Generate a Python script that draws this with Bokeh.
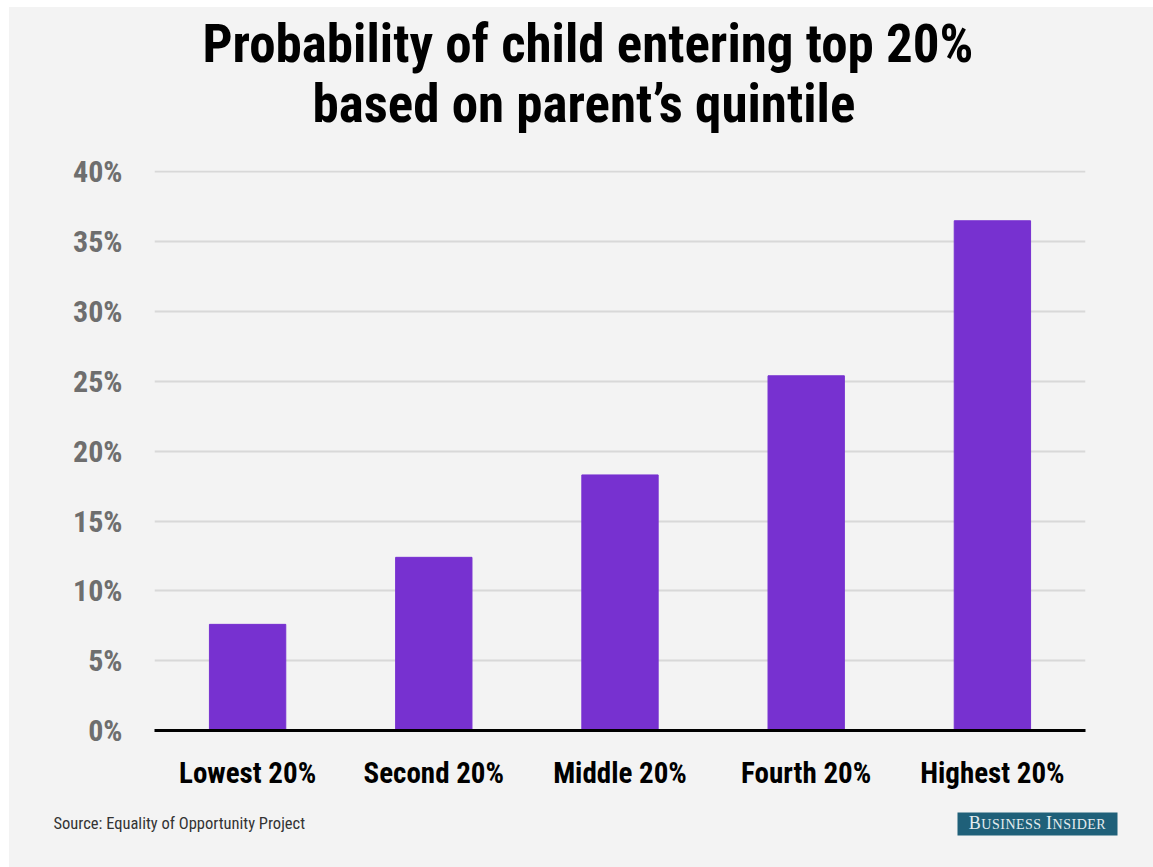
from bokeh.plotting import figure
from bokeh.layouts import column
from bokeh.models import FixedTicker, Range1d, Title
from bokeh.core.properties import value
from bokeh.embed import file_html
from bokeh.resources import INLINE

# Share of children reaching the top income quintile, by parents' quintile
quintiles = ["Lowest 20%", "Second 20%", "Middle 20%", "Fourth 20%", "Highest 20%"]
probability = [7.6, 12.4, 18.3, 25.4, 36.5]

y_ticks = [0, 5, 10, 15, 20, 25, 30, 35, 40]
y_tick_labels = ["0%", "5%", "10%", "15%", "20%", "25%", "30%", "35%", "40%"]

title_lines = ["Probability of child entering top 20%", "based on parent\u2019s quintile"]
source_note = "Source: Equality of Opportunity Project"
# wordmark set in small caps: (text, is_capital) pieces
brand_parts = [("B", True), ("USINESS", False), ("I", True), ("NSIDER", False)]

COND = "Roboto Condensed"
SERIF = "Liberation Serif"
BG = "#f3f3f3"
BAR = "#7731d0"
TEAL = "#1f6079"

# ---------------------------------------------------------------- main chart
p = figure(
    x_range=quintiles,
    y_range=Range1d(0, 40.1),
    width=1144,
    height=798,
    min_border_left=145,
    min_border_right=68,
    min_border_top=163,
    min_border_bottom=75,
    output_backend="svg",
    toolbar_location=None,
    background_fill_color=BG,
    border_fill_color=BG,
    outline_line_color=None,
)

p.vbar(x=quintiles, top=probability, width=0.41, color=BAR)

p.xgrid.grid_line_color = None
p.ygrid.ticker = FixedTicker(ticks=y_ticks)
p.ygrid.grid_line_color = "#d8d8d8"
p.ygrid.grid_line_width = 2

p.yaxis.ticker = FixedTicker(ticks=y_ticks)
p.yaxis.major_label_overrides = {t: s for t, s in zip(y_ticks, y_tick_labels)}
p.yaxis.axis_line_color = None
p.yaxis.major_tick_line_color = None
p.yaxis.minor_tick_line_color = None
p.yaxis.major_tick_out = 0
p.yaxis.major_tick_in = 0
p.yaxis.major_label_standoff = 32
p.yaxis.major_label_text_font = COND
p.yaxis.major_label_text_font_size = "30px"
p.yaxis.major_label_text_font_style = "bold"
p.yaxis.major_label_text_color = "#6e6e6e"

p.xaxis.axis_line_color = "black"
p.xaxis.axis_line_width = 3
p.xaxis.major_tick_line_color = None
p.xaxis.minor_tick_line_color = None
p.xaxis.major_tick_out = 0
p.xaxis.major_tick_in = 0
p.xaxis.major_label_standoff = 25
p.xaxis.major_label_text_font = COND
p.xaxis.major_label_text_font_size = "29px"
p.xaxis.major_label_text_font_style = "bold"
p.xaxis.major_label_text_color = "black"

# headline, stacked upward from the frame: a blank spacer, then line 2, then line 1
p.add_layout(Title(text=" ", text_font=COND, text_font_size="20px", standoff=10), "above")
p.add_layout(Title(
    text=title_lines[1], align="left", offset=158, vertical_align="bottom",
    standoff=0, text_font=COND, text_font_size="53px", text_font_style="bold",
    text_color="black",
), "above")
p.add_layout(Title(
    text=title_lines[0], align="left", offset=48, vertical_align="bottom",
    standoff=-8, text_font=COND, text_font_size="53px", text_font_style="bold",
    text_color="black",
), "above")

# ---------------------------------------------------------------- footer strip
foot = figure(
    width=1144,
    height=62,
    x_range=Range1d(0, 1144),
    y_range=Range1d(62, 0),
    min_border=0,
    x_axis_location=None,
    y_axis_location=None,
    output_backend="svg",
    toolbar_location=None,
    background_fill_color=BG,
    border_fill_color=BG,
    outline_line_color=None,
)
foot.grid.visible = False
# the footer spans the full width, independent of the chart frame above
if "frame_align" in foot.properties():
    foot.frame_align = False

foot.text(
    x=[44], y=[17.5], text=[source_note],
    text_align="left", text_baseline="middle",
    text_font=value(COND), text_font_size="16.5px", text_color="#333333",
)

# badge
badge_left, badge_right, badge_top, badge_bottom = 948, 1108, 7, 30
foot.quad(left=[badge_left], right=[badge_right], top=[badge_top], bottom=[badge_bottom],
          fill_color=TEAL, line_color=None)

# small-caps wordmark: advance widths (em) of the serif capitals used
ADV = {"B": 0.667, "U": 0.722, "S": 0.556, "I": 0.333, "N": 0.722,
       "E": 0.611, "D": 0.722, "R": 0.667, " ": 0.25}
CAP_PX, SMALL_PX = 18, 14
TRACK = 0.5        # extra spacing per letter
BASELINE = 24      # shared baseline inside the badge
MID_TO_BASE = 0.34  # distance from text middle to baseline, in em

def piece_width(s, size):
    return sum(ADV[c] * size + TRACK for c in s)

sizes = [CAP_PX if cap else SMALL_PX for _, cap in brand_parts]
widths = [piece_width(s, sz) for (s, _), sz in zip(brand_parts, sizes)]
word_gap = ADV[" "] * CAP_PX
total = sum(widths) + word_gap
xpos = (badge_left + badge_right) / 2 - total / 2
for i, ((s, cap), sz, w) in enumerate(zip(brand_parts, sizes, widths)):
    cx = xpos
    for ch in s:
        foot.text(
            x=[cx], y=[BASELINE - MID_TO_BASE * sz], text=[ch],
            text_align="left", text_baseline="middle",
            text_font=value(SERIF), text_font_size=f"{sz}px", text_color="#e4ecef",
        )
        cx += ADV[ch] * sz + TRACK
    xpos += w
    if i == 1:
        xpos += word_gap

layout = column(p, foot, spacing=0, styles={"background-color": BG})
layout.margin = (7, 0, 0, 9)

open("out.html", "w").write(file_html(layout, INLINE))
